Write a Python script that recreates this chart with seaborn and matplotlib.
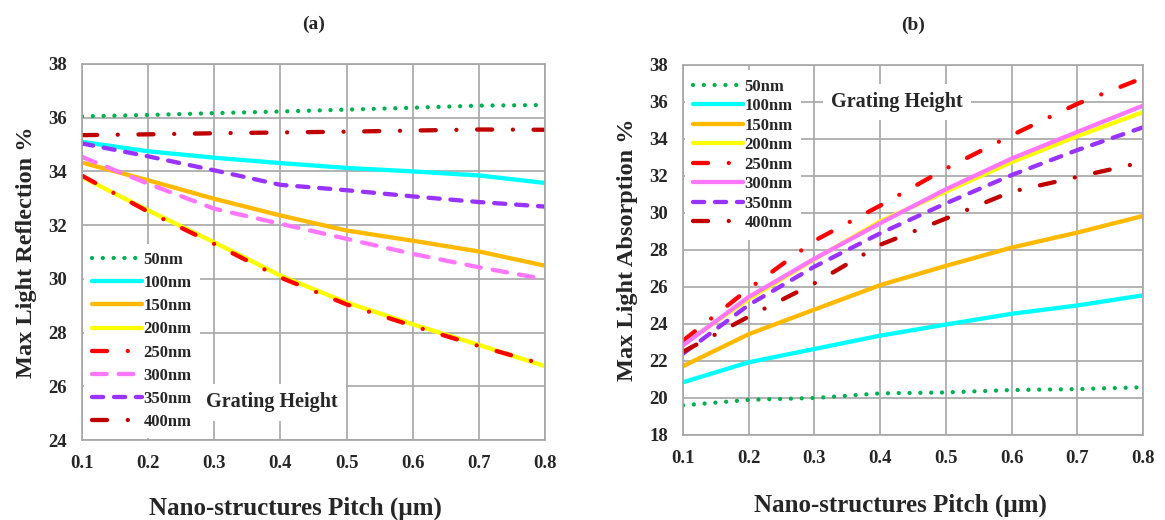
import matplotlib
matplotlib.use("Agg")
import matplotlib.pyplot as plt
import pandas as pd
import seaborn as sns

pitch = [0.1, 0.2, 0.3, 0.4, 0.5, 0.6, 0.7, 0.8]
heights = ["50nm", "100nm", "150nm", "200nm", "250nm", "300nm", "350nm", "400nm"]

# (a) max light reflection %
refl_50 = [36.05, 36.10, 36.17, 36.23, 36.30, 36.37, 36.45, 36.47]
refl_100 = [35.10, 34.75, 34.51, 34.31, 34.13, 34.00, 33.85, 33.57]
refl_150 = [34.33, 33.67, 32.98, 32.36, 31.80, 31.42, 31.02, 30.49]
refl_200 = [33.79, 32.55, 31.36, 30.12, 29.12, 28.31, 27.54, 26.75]
refl_250 = [33.84, 32.50, 31.30, 30.05, 29.05, 28.25, 27.50, 26.80]
refl_300 = [34.54, 33.54, 32.61, 32.05, 31.49, 30.93, 30.43, 29.99]
refl_350 = [35.04, 34.56, 34.04, 33.50, 33.30, 33.07, 32.86, 32.69]
refl_400 = [35.35, 35.38, 35.42, 35.45, 35.48, 35.52, 35.56, 35.55]

# (b) max light absorption %
abs_50 = [19.60, 19.90, 20.00, 20.25, 20.30, 20.43, 20.48, 20.58]
abs_100 = [20.85, 21.93, 22.65, 23.37, 23.97, 24.55, 25.00, 25.55]
abs_150 = [21.72, 23.45, 24.78, 26.10, 27.14, 28.13, 28.94, 29.84]
abs_200 = [22.90, 25.35, 27.50, 29.55, 31.15, 32.75, 34.15, 35.45]
abs_250 = [23.10, 25.90, 28.50, 30.40, 32.40, 34.20, 35.90, 37.30]
abs_300 = [22.85, 25.46, 27.53, 29.45, 31.28, 32.94, 34.38, 35.80]
abs_350 = [22.40, 25.03, 27.10, 28.90, 30.52, 32.05, 33.40, 34.63]
abs_400 = [22.50, 24.40, 26.20, 28.28, 29.70, 31.15, 31.95, 32.75]

refl = [refl_50, refl_100, refl_150, refl_200, refl_250, refl_300, refl_350, refl_400]
absorb = [abs_50, abs_100, abs_150, abs_200, abs_250, abs_300, abs_350, abs_400]

colors = {"50nm": "#00B050", "100nm": "#00FFFF", "150nm": "#FFB900", "200nm": "#FFFF00",
          "250nm": "#FF0000", "300nm": "#FF77FF", "350nm": "#9933FF", "400nm": "#C00000"}

# dash patterns in units of line width (round caps)
dotted = (0, (0.01, 2.5))
dashdot = (0, (3.5, 4.8, 0.01, 4.8))
dashed = (0, (2.6, 2.5))
long_dash = (0, (3.4, 2.8))
styles_a = {"50nm": dotted, "100nm": "-", "150nm": "-", "200nm": "-",
            "250nm": dashdot, "300nm": long_dash, "350nm": dashed, "400nm": dashdot}
styles_b = dict(styles_a, **{"300nm": "-"})


def long_form(values):
    rows = []
    for h, vals in zip(heights, values):
        for p, v in zip(pitch, vals):
            rows.append({"pitch": p, "value": v, "height": h})
    return pd.DataFrame(rows)


df_a = long_form(refl)
df_b = long_form(absorb)

sns.set_theme(style="white")
plt.rcParams["font.family"] = ["Liberation Serif", "DejaVu Serif"]
plt.rcParams["font.weight"] = "bold"
plt.rcParams["axes.labelweight"] = "bold"
plt.rcParams["axes.titleweight"] = "bold"

fig = plt.figure(figsize=(11.65, 5.2), dpi=100)
ax_a = fig.add_axes([0.0704, 0.1538, 0.3974, 0.7232])
ax_b = fig.add_axes([0.5863, 0.1635, 0.3948, 0.7115])

grid_col = "#A6A6A6"


def draw(ax, df, styles):
    for h in heights:
        sub = df[df["height"] == h]
        sns.lineplot(data=sub, x="pitch", y="value", color=colors[h], linewidth=3.1,
                     linestyle=styles[h], dash_capstyle="round", label=h, ax=ax)
    ax.set_xlim(0.1, 0.8)
    ax.set_xticks(pitch)
    ax.set_xticklabels([f"{p:.1f}" for p in pitch])
    ax.grid(True, color=grid_col, linewidth=1.2)
    ax.set_axisbelow(True)
    for s in ax.spines.values():
        s.set_color(grid_col)
        s.set_linewidth(1.2)
    ax.tick_params(axis="both", direction="out", length=5, color=grid_col,
                   labelsize=13.5, pad=6)
    ax.set_xlabel("Nano-structures Pitch (µm)", fontsize=18, labelpad=16)


def add_legend(ax, loc, anchor, spacing):
    ax.legend(loc=loc, bbox_to_anchor=anchor, fontsize=12,
              handlelength=3.0, handletextpad=0.1, labelspacing=spacing,
              frameon=True, facecolor="white", edgecolor="none", framealpha=1,
              borderaxespad=0.1, borderpad=0.5, fancybox=False)


draw(ax_a, df_a, styles_a)
ax_a.set_ylim(24, 38)
ax_a.set_yticks(range(24, 39, 2))
ax_a.set_ylabel("Max Light Reflection %", fontsize=17.5, labelpad=8)
ax_a.xaxis.set_label_coords(0.462, -0.15)
ax_a.set_title("(a)", fontsize=14, pad=25)
add_legend(ax_a, "lower left", (0.0, 0.0), 0.43)
ax_a.text(0.41, 0.1, "Grating Height", transform=ax_a.transAxes, fontsize=14.5,
          ha="center", va="center", zorder=6,
          bbox=dict(facecolor="white", edgecolor="none", pad=6))

draw(ax_b, df_b, styles_b)
ax_b.set_ylim(18, 38)
ax_b.set_yticks(range(18, 39, 2))
ax_b.set_ylabel("Max Light Absorption %", fontsize=17.5, labelpad=8)
ax_b.xaxis.set_label_coords(0.472, -0.158)
ax_b.set_title("(b)", fontsize=14, pad=25)
add_legend(ax_b, "upper left", (0.0, 0.99), 0.21)
ax_b.text(0.465, 0.9, "Grating Height", transform=ax_b.transAxes, fontsize=14.5,
          ha="center", va="center", zorder=6,
          bbox=dict(facecolor="white", edgecolor="none", pad=6))

fig.savefig("out.png", dpi=100)
